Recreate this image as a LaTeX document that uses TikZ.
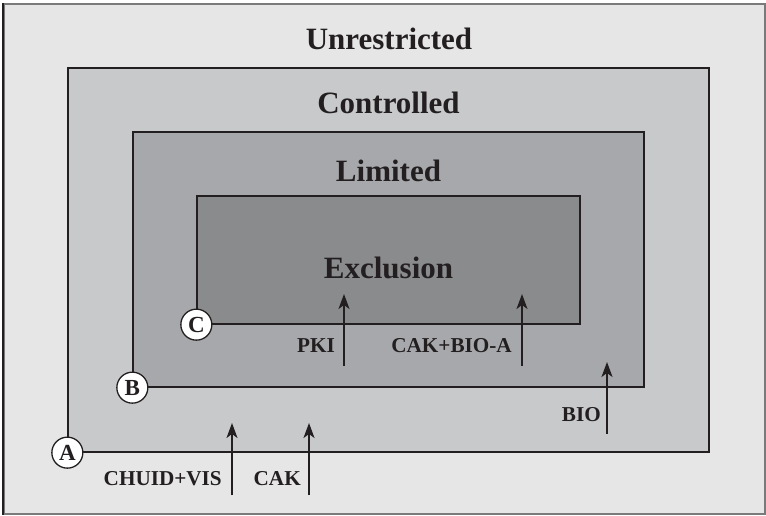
\documentclass[tikz,border=0pt]{standalone}
\usepackage{fontspec}
\setmainfont{Liberation Serif}
\usetikzlibrary{arrows.meta}
\definecolor{ink}{HTML}{231F20}
\definecolor{zoneU}{HTML}{E6E6E6}
\definecolor{zoneC}{HTML}{C8C9CB}
\definecolor{zoneL}{HTML}{A7A8AB}
\definecolor{zoneE}{HTML}{8A8B8D}
\definecolor{frame}{HTML}{7A7A7A}
\tikzset{
  zone/.style={draw=ink, line width=1.3pt, inner sep=0pt, rectangle},
  title/.style={font=\fontsize{31}{31}\selectfont\bfseries, text=ink, anchor=base, inner sep=0pt},
  lbl/.style={font=\fontsize{21.2}{21.2}\selectfont\bfseries, text=ink, anchor=base east, inner sep=0pt},
  corner/.style={circle, draw=ink, fill=white, line width=1.3pt, minimum size=31pt, inner sep=0pt,
    font=\fontsize{23}{23}\selectfont\bfseries, text=ink},
  arr/.style={draw=ink, line width=1.4pt, -{Stealth[length=15pt,width=11pt,inset=4pt]}}
}
\begin{document}
\begin{tikzpicture}[x=1pt,y=-1pt]
\useasboundingbox (0,0) rectangle (766,516);
\fill[white] (0,0) rectangle (766,516);
% outer area
\node[draw=frame, line width=1.6pt, fill=zoneU, inner sep=0pt, minimum width=761pt, minimum height=510pt] (unr) at (384.5,259) {};
\draw[ink, line width=1.6pt] (unr.north west) -- (unr.south west);
% zones
\node[zone, fill=zoneC, minimum width=641pt, minimum height=384pt] (ctl) at (388.5,260) {};
\node[zone, fill=zoneL, minimum width=511pt, minimum height=255pt] (lim) at (388.5,259.5) {};
\node[zone, fill=zoneE, minimum width=383pt, minimum height=128pt] (exc) at (388.5,260) {};
% titles
\node[title] (tU) at (389,50) {Unrestricted};
\node[title] (tC) at (388.5,114) {Controlled};
\node[title] (tL) at (388.5,182) {Limited};
\node[title] (tE) at (388.5,278) {Exclusion};
% corner markers
\node[corner] (cA) at (ctl.south west) {A};
\node[corner] (cB) at (lim.south west) {B};
\node[corner] (cC) at (exc.south west) {C};
% arrows
\coordinate (a1s) at (232,495); \coordinate (a1e) at (232,423);
\coordinate (a2s) at (309,495); \coordinate (a2e) at (309,423);
\coordinate (a3s) at (344,366); \coordinate (a3e) at (344,294);
\coordinate (a4s) at (522,366); \coordinate (a4e) at (522,294);
\coordinate (a5s) at (607,434); \coordinate (a5e) at (607,362);
\draw[arr] (a1s) -- (a1e);
\draw[arr] (a2s) -- (a2e);
\draw[arr] (a3s) -- (a3e);
\draw[arr] (a4s) -- (a4e);
\draw[arr] (a5s) -- (a5e);
% labels
\node[lbl] (l1) at (222,485) {CHUID+VIS};
\node[lbl] (l2) at (301,485) {CAK};
\node[lbl] (l3) at (335,352) {PKI};
\node[lbl] (l4) at (512,352) {CAK+BIO-A};
\node[lbl] (l5) at (601,421) {BIO};
\end{tikzpicture}
\end{document}
